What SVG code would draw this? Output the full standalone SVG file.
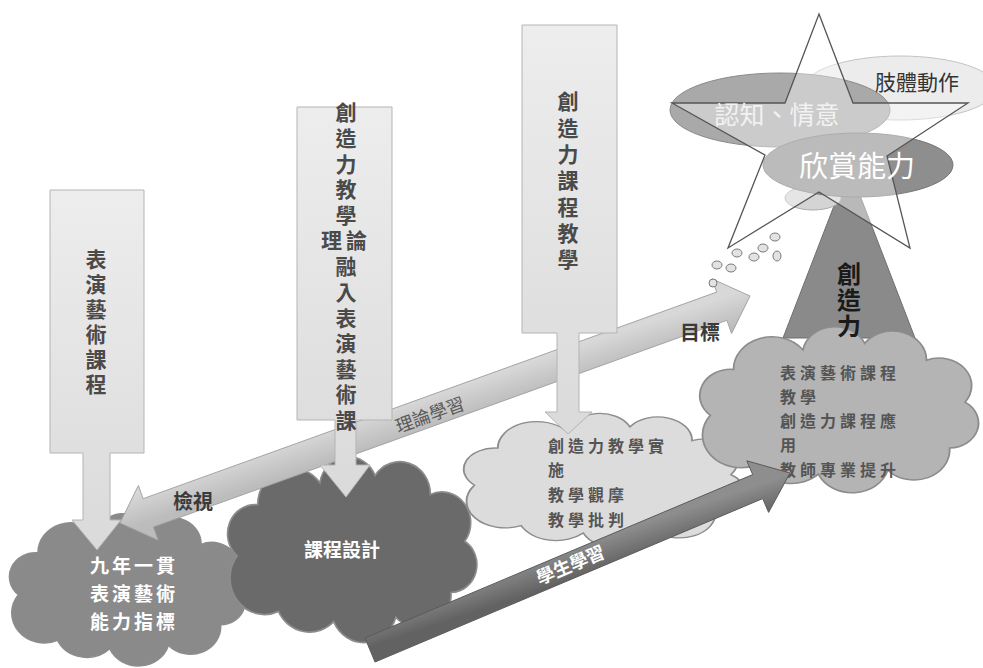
<svg xmlns="http://www.w3.org/2000/svg" width="983" height="668" viewBox="0 0 983 668">
<style>
  text { font-family: "Noto Sans CJK TC", "Noto Sans CJK SC", sans-serif; }
  .box { fill: url(#boxGrad); stroke: #b4b4b4; stroke-width: 1; }
  .vt { font-size: 21px; font-weight: 700; fill: #4a4a4a; writing-mode: vertical-rl; letter-spacing: 4.5px; }
  .cl { stroke: #8c8c8c; stroke-width: 1.2; vector-effect: non-scaling-stroke; }
  .ct { font-size: 16px; font-weight: 700; fill: #555; letter-spacing: 4px; }
  .wt { font-weight: 700; fill: #ffffff; text-anchor: middle; }
  .lbl { font-size: 20px; font-weight: 700; fill: #3a3a3a; }
  .bub { fill: #e2e2e2; stroke: #7a7a7a; stroke-width: 1; }
</style>
<defs>
  <linearGradient id="boxGrad" x1="0" y1="0" x2="0" y2="1">
    <stop offset="0" stop-color="#ededed"/>
    <stop offset="1" stop-color="#dadada"/>
  </linearGradient>
  <linearGradient id="bandTop" gradientUnits="userSpaceOnUse" x1="430" y1="395" x2="440" y2="425">
    <stop offset="0" stop-color="#d8d8d8"/>
    <stop offset="1" stop-color="#bcbcbc"/>
  </linearGradient>
  <linearGradient id="bandBot" gradientUnits="userSpaceOnUse" x1="568" y1="548" x2="578" y2="578">
    <stop offset="0" stop-color="#8e8e8e"/>
    <stop offset="1" stop-color="#626262"/>
  </linearGradient>
  <symbol id="cloud" viewBox="12 6 184 130" preserveAspectRatio="none">
    <path d="M20,75 A20 20 0 0 1 35,40 A25 25 0 0 1 80,25 A21 21 0 0 1 120,20 A22 22 0 0 1 160,33 A21 21 0 0 1 185,65 A19 19 0 0 1 175,100 A23 23 0 0 1 135,117 A24 24 0 0 1 90,120 A25 25 0 0 1 50,113 A25 25 0 0 1 20,75 Z"/>
  </symbol>
</defs>
<rect width="983" height="668" fill="#ffffff"/>

<!-- clouds -->
<g id="cloudA">
  <use href="#cloud" x="8" y="512" width="240" height="156" fill="#8a8a8a" class="cl"/>
  <text class="wt" font-size="19" letter-spacing="3"><tspan x="134" y="573">九年一貫</tspan><tspan x="134" y="601">表演藝術</tspan><tspan x="134" y="629">能力指標</tspan></text>
</g>
<g id="cloudB">
  <use href="#cloud" x="226" y="455" width="254" height="190" fill="#6a6a6a" class="cl"/>
  <text class="wt" font-size="19" x="342" y="557">課程設計</text>
</g>
<g id="cloudC">
  <use href="#cloud" x="462" y="412" width="286" height="138" fill="#dcdcdc" class="cl"/>
  <text class="ct"><tspan x="548" y="452">創造力教學實</tspan><tspan x="548" y="476">施</tspan><tspan x="548" y="501">教學觀摩</tspan><tspan x="548" y="526">教學批判</tspan></text>
</g>
<g id="triangle">
  <polygon points="849,167 915,338 783,338" fill="#8a8a8a" stroke="#6e6e6e" stroke-width="1"/>
</g>
<g id="cloudD">
  <use href="#cloud" x="698" y="325" width="284" height="170" fill="#b4b4b4" class="cl"/>
  <text class="ct"><tspan x="780" y="379">表演藝術課程</tspan><tspan x="780" y="403">教學</tspan><tspan x="780" y="427">創造力課程應</tspan><tspan x="780" y="451">用</tspan><tspan x="780" y="476">教師專業提升</tspan></text>
</g>

<!-- connectors -->
<g id="connectors">
  <polygon points="120,523 158,540.1 153.3,526.9 726.9,320.3 731.6,333.5 750,296 712,278.9 716.7,292.1 143.1,498.7 138.4,485.5" fill="url(#bandTop)" stroke="#a4a4a4" stroke-width="1"/>
  <text font-size="18" fill="#5a5a5a" text-anchor="middle" transform="translate(432,421) rotate(-19.8)">理論學習</text>
  <text class="lbl" x="173" y="509">檢視</text>
  <text class="lbl" x="680" y="340">目標</text>
  <polygon points="365,638 375,662 762.7,498.6 768.6,512.4 790,473 746.8,460.8 752.7,474.6" fill="url(#bandBot)" stroke="#5a5a5a" stroke-width="1"/>
  <text class="wt" font-size="18" transform="translate(573,571) rotate(-22.8)">學生學習</text>
</g>

<!-- boxes with down arrows -->
<g id="box1">
  <path class="box" d="M50,190 H144 V453 H110 V520 H121 L97,550 L72,520 H83 V453 H50 Z"/>
  <text class="vt" x="96" y="249" style="letter-spacing:4px">表演藝術課程</text>
</g>
<g id="box2">
  <path class="box" d="M297,107 H392 V420 H356 V465 H370 L346,497 L320,465 H335 V420 H297 Z"/>
  <text class="vt" x="346" y="102" style="letter-spacing:4.6px">創造力教學</text>
  <text x="346" y="248" font-size="21" font-weight="700" fill="#4a4a4a" text-anchor="middle" letter-spacing="4">理論</text>
  <text class="vt" x="346" y="256" style="letter-spacing:4.6px">融入表演藝術課</text>
</g>
<g id="box3">
  <path class="box" d="M522,25 H617 V333 H579 V412 H592 L568,434 L545,412 H557 V333 H522 Z"/>
  <text class="vt" x="568" y="91" style="letter-spacing:5.3px">創造力課程教學</text>
</g>

<!-- star with goals -->
<g id="goals">
  <ellipse cx="900" cy="88" rx="96" ry="32" fill="#ececec" stroke="#c4c4c4" stroke-width="1"/>
  <ellipse cx="780" cy="110" rx="110" ry="37" fill="#a9a9a9" stroke="#8a8a8a" stroke-width="1"/>
  <ellipse cx="813" cy="198" rx="28" ry="12" fill="#d4d4d4" stroke="#aaaaaa" stroke-width="1"/>
  <ellipse cx="858" cy="165" rx="95" ry="32" fill="#8e8e8e" stroke="#767676" stroke-width="1"/>
  <path d="M819,14 L853,103 L968,103 L887,156 L910,248 L819,192 L728,248 L765,155 L672,103 L785,103 Z" fill="#ffffff" fill-opacity="0.4" stroke="#555555" stroke-width="1.3"/>
  <text x="917" y="90" font-size="21" fill="#333" text-anchor="middle">肢體動作</text>
  <text x="777" y="124" font-size="25" fill="#f2f2f2" text-anchor="middle">認知、情意</text>
  <text x="857" y="177" font-size="29" fill="#ffffff" text-anchor="middle">欣賞能力</text>
  <ellipse class="bub" cx="775" cy="237" rx="5" ry="4"/>
  <ellipse class="bub" cx="763" cy="248" rx="5" ry="4"/>
  <ellipse class="bub" cx="754" cy="257" rx="5" ry="4"/>
  <ellipse class="bub" cx="777" cy="256" rx="4" ry="5"/>
  <ellipse class="bub" cx="737" cy="253" rx="5" ry="4"/>
  <ellipse class="bub" cx="717" cy="265" rx="5" ry="4"/>
  <ellipse class="bub" cx="731" cy="268" rx="5" ry="4"/>
  <ellipse class="bub" cx="713" cy="283" rx="4" ry="4"/>
  <text x="849" y="262" font-size="24" font-weight="700" fill="#1a1a1a" style="writing-mode: vertical-rl; letter-spacing: 2px">創造力</text>
</g>
</svg>
